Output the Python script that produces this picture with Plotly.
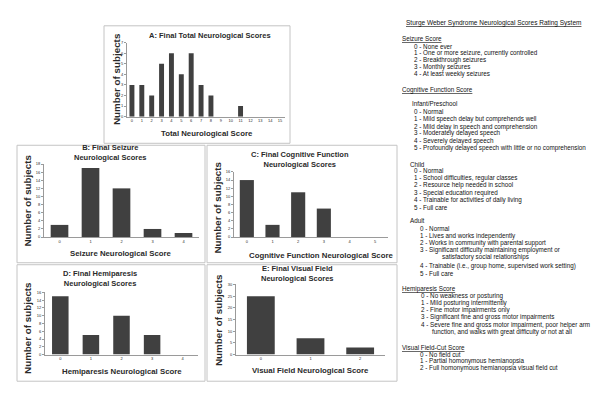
"""
Sturge-Weber: distribution of final neurological scores, recreated with Plotly
"""
import plotly.graph_objects as go

# data
total_scores = list(range(16))
total_counts = [3, 3, 2, 5, 6, 4, 6, 3, 2, 0, 0, 1, 0, 0, 0, 0]
seizure_scores = [0, 1, 2, 3, 4]
seizure_counts = [3, 17, 12, 2, 1]
cognitive_scores = [0, 1, 2, 3, 4, 5]
cognitive_counts = [14, 3, 11, 7, 0, 0]
hemiparesis_scores = [0, 1, 2, 3, 4]
hemiparesis_counts = [15, 5, 10, 5, 0]
visual_scores = [0, 1, 2]
visual_counts = [25, 7, 3]

# the page body keeps its default 8px margin, so the figure is drawn 8px in
PAGE = 8
W, H = 600 - PAGE, 400 - PAGE
BAR = '#404040'
AXIS = '#9a9a9a'
BOX = '#c4c4c4'
TXT = '#2a2a2a'
FONT = 'Liberation Sans, Arial'


def px(x):
    return (x - PAGE) / W


def py(y):
    return 1 - (y - PAGE) / H


# each panel: data, pixel frame of the plot area, titles and surrounding box
panels = [
    dict(x=total_scores, y=total_counts, ymax=7, dtick=1, bw=0.5,
         frame=(127, 285, 115, 40), box=(104, 290, 23, 142),
         title='A: Final Total Neurological Scores', tpos=(210, 33),
         xtitle='Total Neurological Score', xtpos=(207, 132), ytpos=(116, 77)),
    dict(x=seizure_scores, y=seizure_counts, ymax=18, dtick=2, bw=0.57,
         frame=(44, 199, 237, 163), box=(17, 205, 144, 263),
         title='B: Final Seizure<br>Neurological Scores', tpos=(110, 151.5),
         xtitle='Seizure Neurological Score', xtpos=(121, 254), ytpos=(28, 200)),
    dict(x=cognitive_scores, y=cognitive_counts, ymax=16, dtick=2, bw=0.55,
         frame=(234, 388, 237, 171), box=(207, 397, 144, 263),
         title='C: Final Cognitive Function<br>Neurological Scores', tpos=(300, 158),
         xtitle='Cognitive Function Neurological Score', xtpos=(321, 256), ytpos=(217, 207)),
    dict(x=hemiparesis_scores, y=hemiparesis_counts, ymax=16, dtick=2, bw=0.54,
         frame=(45, 198, 356, 293), box=(17, 205, 265, 383),
         title='D: Final Hemiparesis<br>Neurological Scores', tpos=(100, 278.5),
         xtitle='Hemiparesis Neurological Score', xtpos=(122, 373), ytpos=(28, 329)),
    dict(x=visual_scores, y=visual_counts, ymax=30, dtick=5, bw=0.56,
         frame=(236, 385, 356, 285), box=(207, 397, 265, 383),
         title='E: Final Visual Field<br>Neurological Scores', tpos=(297, 274),
         xtitle='Visual Field Neurological Score', xtpos=(310, 372), ytpos=(218, 321)),
]

# rating system text on the right: (x, y, text)
rating_lines = [
    (400, 36, '<u>Seizure Score</u>'),
    (412, 44, '0 - None ever'),
    (412, 51, '1 - One or more seizure, currently controlled'),
    (412, 58, '2 - Breakthrough seizures'),
    (412, 65, '3 - Monthly seizures'),
    (412, 72, '4 - At least weekly seizures'),
    (400, 88, '<u>Cognitive Function Score</u>'),
    (410, 102, 'Infant/Preschool'),
    (412, 110, '0 - Normal'),
    (412, 117, '1 - Mild speech delay but comprehends well'),
    (412, 125, '2 - Mild delay in speech and comprehension'),
    (412, 132, '3 - Moderately delayed speech'),
    (412, 140, '4 - Severely delayed speech'),
    (412, 147, '5 - Profoundly delayed speech with little or no comprehension'),
    (408, 163, 'Child'),
    (412, 170, '0 - Normal'),
    (412, 177, '1 - School difficulties, regular classes'),
    (412, 184, '2 - Resource help needed in school'),
    (412, 192, '3 - Special education required'),
    (412, 199, '4 - Trainable for activities of daily living'),
    (412, 207, '5 - Full care'),
    (408, 220, 'Adult'),
    (418, 228, '0 - Normal'),
    (418, 236, '1 - Lives and works independently'),
    (418, 243, '2 - Works in community with parental support'),
    (418, 250, '3 - Significant difficulty maintaining employment or'),
    (440, 257, 'satisfactory social relationships'),
    (418, 266, '4 - Trainable (i.e., group home, supervised work setting)'),
    (418, 274, '5 - Full care'),
    (400, 290, '<u>Hemiparesis Score</u>'),
    (419, 297, '0 - No weakness or posturing'),
    (419, 304, '1 - Mild posturing intermittently'),
    (419, 311, '2 - Fine motor impairments only'),
    (419, 318, '3 - Significant fine and gross motor impairments'),
    (419, 326, '4 - Severe fine and gross motor impairment, poor helper arm'),
    (430, 333, 'function, and walks with great difficulty or not at all'),
    (400, 349, '<u>Visual Field-Cut Score</u>'),
    (418, 356, '0 - No field cut'),
    (418, 363, '1 - Partial homonymous hemianopsia'),
    (418, 370, '2 - Full homonymous hemianopsia visual field cut'),
]

fig = go.Figure()
layout_axes = {}
annotations = []
shapes = []

for i, p in enumerate(panels, start=1):
    xa = 'x' if i == 1 else f'x{i}'
    ya = 'y' if i == 1 else f'y{i}'
    x0, x1, yb, yt = p['frame']

    fig.add_trace(go.Bar(
        x=p['x'], y=p['y'], width=p['bw'], xaxis=xa, yaxis=ya,
        marker=dict(color=BAR, line=dict(width=0)), showlegend=False
    ))

    layout_axes['xaxis' if i == 1 else f'xaxis{i}'] = dict(
        domain=[px(x0), px(x1)], anchor=ya, range=[-0.5, len(p['x']) - 0.5],
        tickmode='array', tickvals=p['x'], showline=True, linecolor=AXIS,
        linewidth=1, ticks='', showgrid=False, zeroline=False,
        tickfont=dict(size=4, family=FONT, color=TXT), fixedrange=True
    )
    layout_axes['yaxis' if i == 1 else f'yaxis{i}'] = dict(
        domain=[py(yb), py(yt)], anchor=xa, range=[0, p['ymax']],
        dtick=p['dtick'], showline=True, linecolor=AXIS, linewidth=1,
        ticks='outside', ticklen=2, tickcolor=AXIS, showgrid=False,
        zeroline=False, tickfont=dict(size=4, family=FONT, color=TXT),
        fixedrange=True
    )

    # panel frame
    bx0, bx1, by0, by1 = p['box']
    shapes.append(dict(type='rect', xref='paper', yref='paper',
                       x0=px(bx0), x1=px(bx1), y0=py(by1), y1=py(by0),
                       line=dict(color=BOX, width=1)))

    annotations.append(dict(
        text=f"<b>{p['title']}</b>", x=px(p['tpos'][0]), y=py(p['tpos'][1]),
        xref='paper', yref='paper', showarrow=False, xanchor='center',
        yanchor='middle', font=dict(size=7.5, family=FONT, color=TXT)
    ))
    annotations.append(dict(
        text=f"<b>{p['xtitle']}</b>", x=px(p['xtpos'][0]), y=py(p['xtpos'][1]),
        xref='paper', yref='paper', showarrow=False, xanchor='center',
        yanchor='middle', font=dict(size=7.8, family=FONT, color=TXT)
    ))
    annotations.append(dict(
        text='<b>Number of subjects</b>', x=px(p['ytpos'][0]), y=py(p['ytpos'][1]),
        xref='paper', yref='paper', showarrow=False, textangle=-90,
        xanchor='center', yanchor='middle',
        font=dict(size=9.8, family=FONT, color=TXT)
    ))

annotations.append(dict(
    text='<u>Sturge Weber Syndrome Neurological Scores Rating System</u>',
    x=px(493), y=py(20), xref='paper', yref='paper', showarrow=False,
    xanchor='center', yanchor='middle', font=dict(size=6.5, family=FONT, color='#111')
))
for lx, ly, txt in rating_lines:
    annotations.append(dict(
        text=txt, x=px(lx), y=py(ly), xref='paper', yref='paper',
        showarrow=False, xanchor='left', yanchor='middle',
        font=dict(size=6.3, family=FONT, color='#111')
    ))

fig.update_layout(
    width=W, height=H,
    margin=dict(l=0, r=0, t=0, b=0),
    paper_bgcolor='white', plot_bgcolor='white',
    annotations=annotations, shapes=shapes,
    **layout_axes
)

fig.write_html("out.html")
